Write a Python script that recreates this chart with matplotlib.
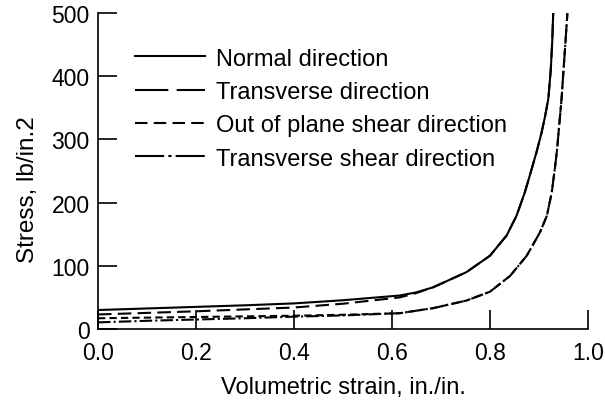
import matplotlib.pyplot as plt
from matplotlib.lines import Line2D
from matplotlib.ticker import MultipleLocator

plt.rcParams['font.family'] = ['Liberation Sans', 'DejaVu Sans']

# ==============================
# dados
# ==============================

strain_upper = [0.0, 0.1, 0.2, 0.3, 0.4, 0.5, 0.616, 0.65, 0.684, 0.752, 0.80, 0.834,
                0.854, 0.871, 0.885, 0.895, 0.905, 0.912, 0.919, 0.924, 0.927, 0.929]
normal = [30, 32.5, 35, 37.5, 40.5, 45.5, 53, 58, 66, 90, 116, 148,
          179, 216, 253, 280, 310, 335, 364, 410, 455, 500]
transverse = [23, 25.5, 28, 31, 34, 40, 50, 57, 66, 90, 116, 148,
              179, 216, 253, 280, 310, 335, 364, 410, 455, 500]

strain_lower = [0.0, 0.1, 0.2, 0.3, 0.4, 0.5, 0.616, 0.684, 0.752, 0.80, 0.841, 0.875,
                0.902, 0.916, 0.926, 0.933, 0.937, 0.946, 0.953, 0.958]
out_of_plane = [17, 18, 19, 20, 21, 22.5, 25, 33, 45, 59, 84, 116,
                153, 179, 216, 258, 285, 364, 443, 500]
trans_shear = [10.5, 13, 15, 17, 19.5, 21.5, 25, 33, 45, 59, 84, 116,
               153, 179, 216, 258, 285, 364, 443, 500]

labels = ["Normal direction", "Transverse direction",
          "Out of plane shear direction", "Transverse shear direction"]

# ==============================
# estilos
# ==============================

lw = 1.5
estilos = ["-", (0, (6.5, 3)), (0, (3.5, 2)), (0, (6, 1.5, 1, 1.5))]
estilos_leg = ["-", (0, (16, 4)), (0, (6, 3)), (0, (14, 2, 1.5, 2))]

# ==============================
# figura
# ==============================

fig = plt.figure(figsize=(6.05, 4.02), dpi=100)
ax = fig.add_axes([98 / 605, (402 - 330) / 402, 490 / 605, 316 / 402])

ax.plot(strain_upper, normal, color="black", linewidth=lw, linestyle=estilos[0])
ax.plot(strain_upper, transverse, color="black", linewidth=lw, linestyle=estilos[1])
ax.plot(strain_lower, out_of_plane, color="black", linewidth=lw, linestyle=estilos[2])
ax.plot(strain_lower, trans_shear, color="black", linewidth=lw, linestyle=estilos[3])

ax.set_xlim(0, 1.0)
ax.set_ylim(0, 500)

ax.xaxis.set_major_locator(MultipleLocator(0.2))
ax.yaxis.set_major_locator(MultipleLocator(100))
ax.xaxis.set_major_formatter(plt.FuncFormatter(lambda v, p: f"{v:.1f}"))

ax.spines["top"].set_visible(False)
ax.spines["right"].set_visible(False)
ax.spines["left"].set_linewidth(1.2)
ax.spines["bottom"].set_linewidth(1.2)
ax.tick_params(direction="in", length=14, width=1.2, labelsize=16.5)
ax.tick_params(axis="x", pad=9)
ax.tick_params(axis="y", length=14, pad=6)

ax.set_xlabel("Volumetric strain, in./in.", fontsize=17, labelpad=8)
ax.set_ylabel("Stress, lb/in.2", fontsize=17.5)
ax.yaxis.set_label_coords(-0.12, 0.445)

# ==============================
# legenda
# ==============================

handles = [Line2D([], [], color="black", linewidth=lw, linestyle=s) for s in estilos_leg]
ax.legend(handles, labels, loc="upper left", bbox_to_anchor=(0.0755, 0.89),
          frameon=False, fontsize=17, handlelength=2.97, handletextpad=0.47,
          labelspacing=0.48, borderpad=0, borderaxespad=0)

fig.savefig("out.png", dpi=100)
plt.close()
